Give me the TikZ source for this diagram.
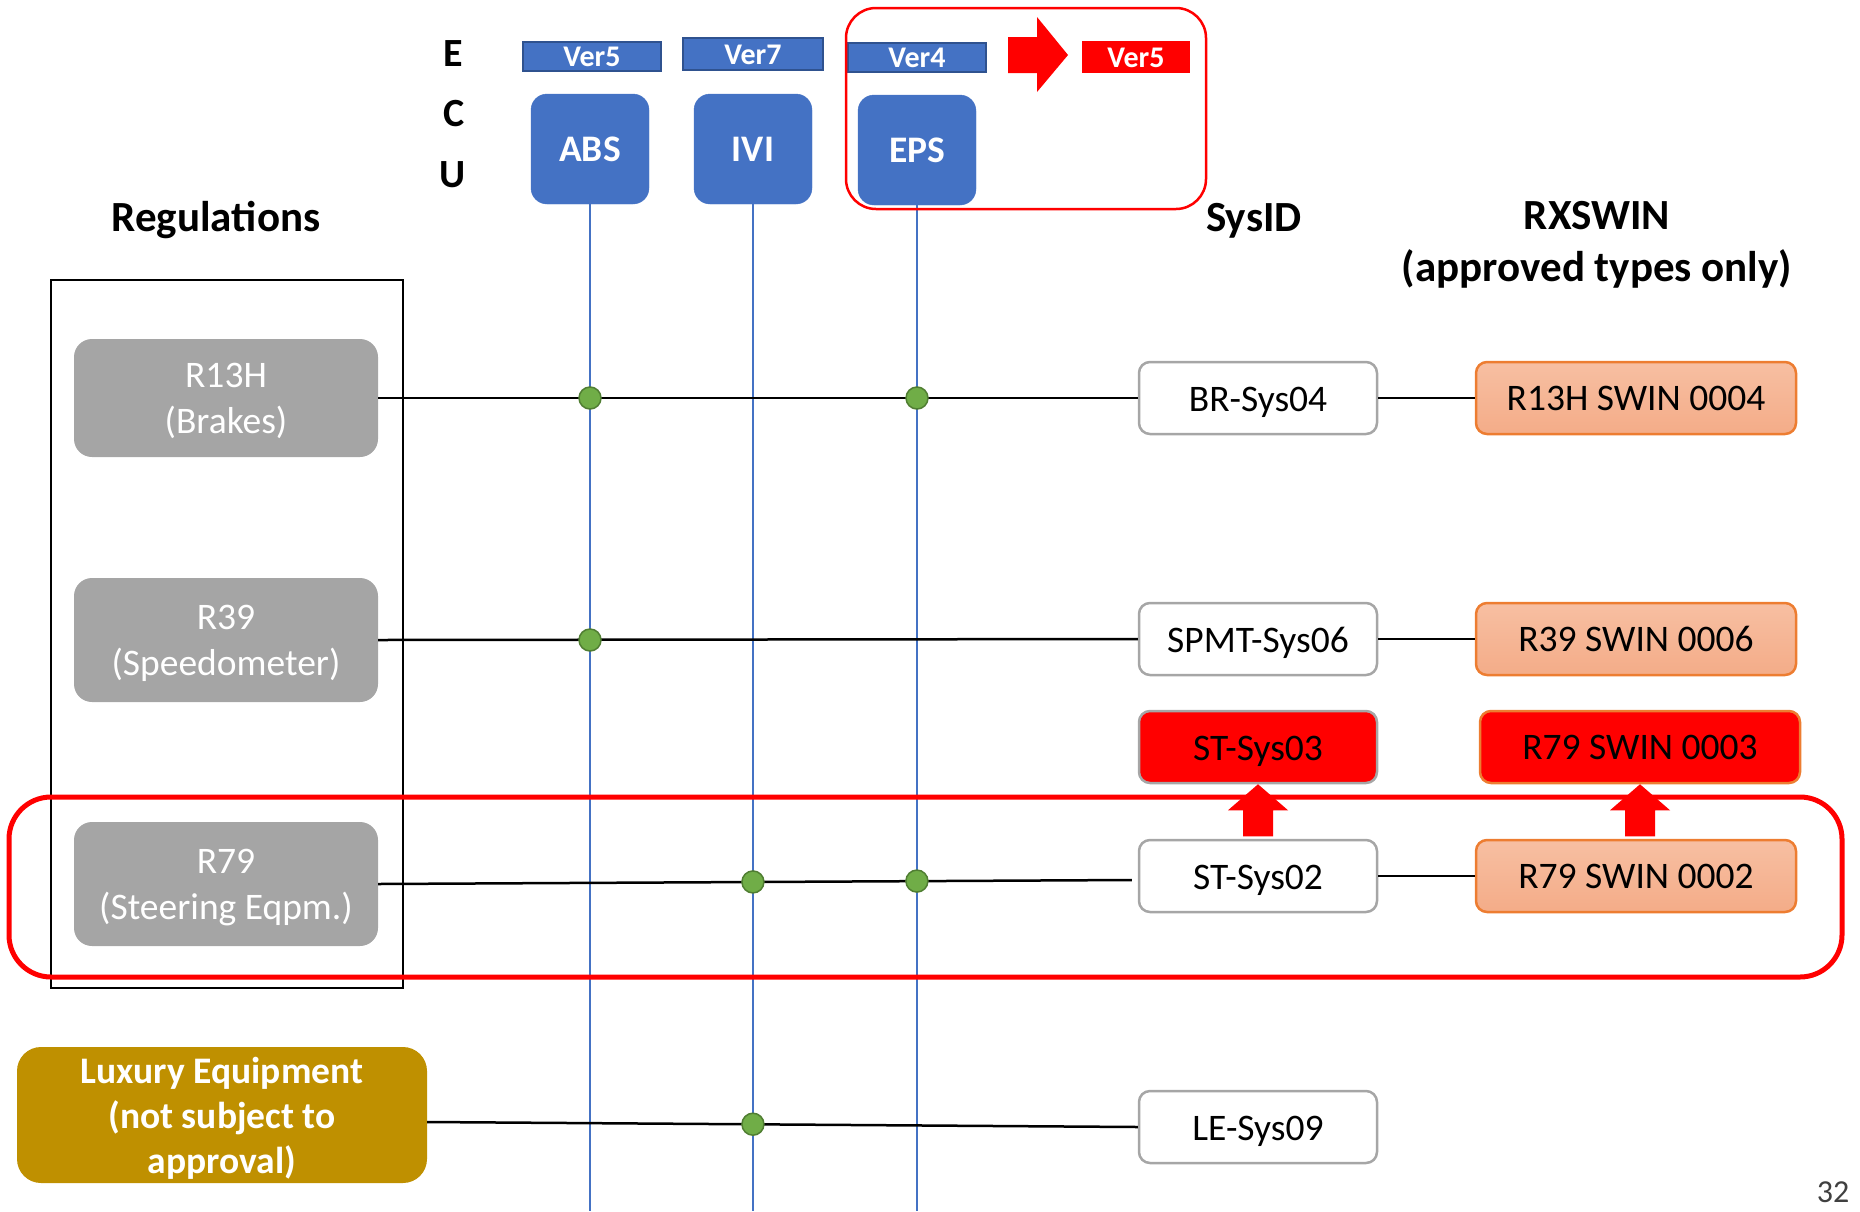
\documentclass[tikz,border=0pt]{standalone}
\usepackage{fontspec}
\setmainfont{Carlito}
\usetikzlibrary{calc}

\definecolor{ecublue}{HTML}{4472C4}
\definecolor{ecuedge}{HTML}{2F528F}
\definecolor{reggray}{HTML}{A5A5A5}
\definecolor{sysedge}{HTML}{A6A6A6}
\definecolor{swintop}{HTML}{F7BFA2}
\definecolor{swinbot}{HTML}{F4AC88}
\definecolor{swinedge}{HTML}{ED7D31}
\definecolor{luxgold}{HTML}{BF9000}
\definecolor{dotgreen}{HTML}{70AD47}
\definecolor{dotedge}{HTML}{507E32}
\definecolor{alertred}{HTML}{FF0000}
\definecolor{pagegray}{HTML}{404040}

\tikzset{
  heading/.style={font=\bfseries\fontsize{43}{52}\selectfont, align=center, inner sep=0pt},
  eculetter/.style={font=\bfseries\fontsize{40}{48}\selectfont, inner sep=0pt},
  ecubox/.style={fill=ecublue, draw=ecublue, rounded corners=16pt, text=white,
    font=\bfseries\fontsize{37.5}{44}\selectfont, minimum width=118pt, minimum height=110pt, inner sep=0pt},
  verbox/.style={fill=ecublue, draw=ecuedge, line width=2pt, text=white,
    font=\bfseries\fontsize{30}{34}\selectfont, text height=20pt, text depth=0pt,
    minimum width=138pt, minimum height=29pt, inner sep=0pt},
  regbox/.style={fill=reggray, rounded corners=18pt, text=white, align=center, text depth=0pt,
    font=\fontsize{37.5}{46}\selectfont, minimum width=304pt, minimum height=118pt, inner sep=0pt},
  sysbox/.style={fill=white, draw=sysedge, line width=2.5pt, rounded corners=11pt,
    text height=26pt, text depth=0pt,
    font=\fontsize{37.5}{44}\selectfont, minimum width=238pt, minimum height=72pt, inner sep=0pt},
  swinbox/.style={top color=swintop, bottom color=swinbot, draw=swinedge, line width=2.5pt,
    rounded corners=11pt, text height=25pt, text depth=0pt,
    font=\fontsize{37.5}{44}\selectfont, minimum width=320pt, minimum height=72pt, inner sep=0pt},
  link/.style={line width=2.5pt, black},
  busline/.style={line width=2pt, ecublue},
  dot/.style={circle, fill=dotgreen, draw=dotedge, line width=1.5pt, minimum size=22pt, inner sep=0pt},
  alertframe/.style={draw=alertred, rounded corners=#1},
}

\begin{document}
\begin{tikzpicture}[x=1pt, y=-1pt]
\useasboundingbox (0,0) rectangle (1860,1211);

% ECU column label
\node[eculetter] (lE) at (453,54) {E};
\node[eculetter] (lC) at (454,114) {C};
\node[eculetter] (lU) at (453,175) {U};

% software versions
\node[verbox] (v1) at (592,56) {Ver5};
\node[verbox, minimum width=140pt, minimum height=32pt] (v2) at (753,54) {Ver7};
\node[verbox] (v3) at (917,57) {Ver4};
\node[verbox, fill=alertred, draw=alertred, minimum width=106pt, minimum height=30pt] (v4) at (1136,57) {Ver5};

% version update arrow
\fill[alertred] (1008,37) -- (1037,37) -- (1037,17) -- (1068,55) -- (1037,92) -- (1037,73) -- (1008,73) -- cycle;

% ECUs
\node[ecubox] (abs) at (590,149) {ABS};
\node[ecubox] (ivi) at (753,149) {IVI};
\node[ecubox] (eps) at (917,150) {EPS};

% headings
\node[heading] (hreg) at (216,220.5) {Regulations};
\node[heading] (hsys) at (1254,220.5) {SysID};
\node[heading] (hrx) at (1597,245) {RXSWIN\\(approved types only)};

% regulation group
\draw[line width=2.5pt] (51,280) rectangle (403,988);
\node[regbox] (r13) at (226,398) {R13H\\(Brakes)};
\node[regbox, minimum height=124pt] (r39) at (226,640) {R39\\(Speedometer)};
\node[regbox, minimum height=124pt] (r79) at (226,884) {R79\\(Steering Eqpm.)};
\node[regbox, fill=luxgold, rounded corners=24pt, font=\bfseries\fontsize{37.5}{45}\selectfont,
  minimum width=410pt, minimum height=136pt] (lux) at (222,1115) {Luxury Equipment\\(not subject to\\approval)};

% system identifiers
\node[sysbox] (br) at (1258,398) {BR-Sys04};
\node[sysbox] (spmt) at (1258,639) {SPMT-Sys06};
\node[sysbox, fill=alertred] (st3) at (1258,747) {ST-Sys03};
\node[sysbox] (st2) at (1258,876) {ST-Sys02};
\node[sysbox] (le) at (1258,1127) {LE-Sys09};

% RXSWIN entries
\node[swinbox] (sw13) at (1636,398) {R13H SWIN 0004};
\node[swinbox] (sw39) at (1636,639) {R39 SWIN 0006};
\node[swinbox, top color=alertred, bottom color=alertred] (sw79n) at (1640,747) {R79 SWIN 0003};
\node[swinbox] (sw79) at (1636,876) {R79 SWIN 0002};

% ECU bus lines
\coordinate (absend) at (abs.south |- 0,1211);
\coordinate (iviend) at (ivi.south |- 0,1211);
\coordinate (epsend) at (eps.south |- 0,1211);
\draw[busline] (abs.south) -- (absend);
\draw[busline] (ivi.south) -- (iviend);
\draw[busline] (eps.south) -- (epsend);

% regulation links
\coordinate (st2in) at ($(st2.west)+(-6,4)$);
\coordinate (luxout) at ($(lux.east)+(0,7)$);
\draw[link] (r13.east) -- (br.west);
\draw[link] (r39.east) -- (spmt.west);
\draw[link] (r79.east) -- (st2in);
\draw[link] (luxout) -- (le.west);
\draw[link] (br.east) -- (sw13.west);
\draw[link] (spmt.east) -- (sw39.west);
\draw[link] (st2.east) -- (sw79.west);

% ECU involvement markers
\node[dot] (d1) at (abs.south |- r13.east) {};
\node[dot] (d2) at (eps.south |- r13.east) {};
\node[dot] (d3) at (abs.south |- r39.east) {};
\node[dot] (d4) at (intersection of ivi.south--iviend and r79.east--st2in) {};
\node[dot] (d5) at (intersection of eps.south--epsend and r79.east--st2in) {};
\node[dot] (d6) at (intersection of ivi.south--iviend and luxout--le.west) {};

% update arrows
\fill[alertred] (st3.south) -- ++(30,26) -- ++(-15,0) -- ++(0,26) -- ++(-30,0) -- ++(0,-26) -- ++(-15,0) -- cycle;
\fill[alertred] (sw79n.south) -- ++(30,26) -- ++(-15,0) -- ++(0,26) -- ++(-30,0) -- ++(0,-26) -- ++(-15,0) -- cycle;

% highlighted areas
\draw[alertframe=30pt, line width=2.5pt] (846,8) rectangle (1206,209);
\draw[alertframe=42pt, line width=5pt] (9,797) rectangle (1842,977);

% page number
\node[font=\fontsize{32}{38}\selectfont, text=pagegray, inner sep=0pt] (page) at (1833,1192) {32};
\end{tikzpicture}
\end{document}
